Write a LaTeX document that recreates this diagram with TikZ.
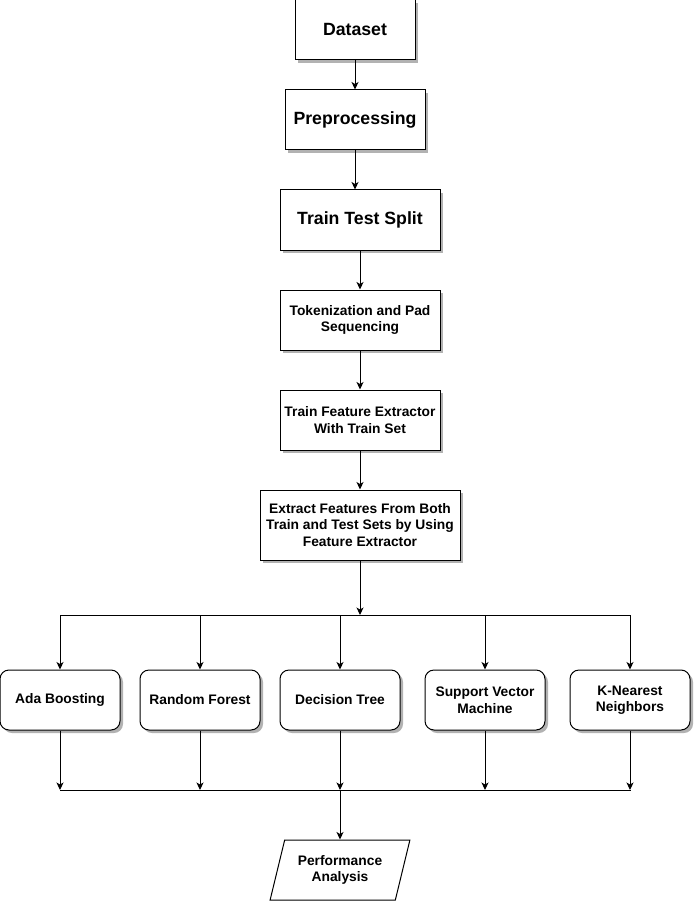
\documentclass[tikz,border=0pt]{standalone}
\usepackage{fontspec}
\setmainfont{Liberation Sans}
\usepackage{tikz}
\usetikzlibrary{arrows.meta,shapes.geometric,shadows}

\tikzset{
  box/.style={draw, fill=white, line width=1pt, align=center,
    drop shadow={shadow xshift=3pt, shadow yshift=-3pt, opacity=0.3, fill=black},
    font=\bfseries\fontsize{13.8}{16.5}\selectfont},
  bigbox/.style={box, minimum height=60pt, font=\bfseries\fontsize{17.7}{20}\selectfont},
  algo/.style={box, rounded corners=9pt, minimum width=120pt, minimum height=60pt},
  io/.style={draw, fill=white, line width=1pt, align=center, trapezium,
    trapezium left angle=71.6, trapezium right angle=108.4, trapezium stretches=true,
    minimum width=140pt, minimum height=60pt,
    font=\bfseries\fontsize{13.8}{16.5}\selectfont},
  line/.style={line width=1pt},
  arr/.style={line, -{Stealth[length=7.5pt, width=7pt, inset=2pt]}}
}

\begin{document}
\begin{tikzpicture}[x=1pt,y=-1pt]
\useasboundingbox (0,0) rectangle (693,901);
\node[bigbox, minimum width=120pt] (dataset) at (355,30) {Dataset};
\node[bigbox, minimum width=140pt] (prep) at (355,120) {Preprocessing};
\node[bigbox, minimum width=160pt] (split) at (360,220) {Train Test Split};
\node[box, minimum width=160pt, minimum height=60pt] (token) at (360,320) {Tokenization and Pad\\Sequencing};
\node[box, minimum width=160pt, minimum height=60pt] (trainfe) at (360,420) {Train Feature Extractor\\With Train Set};
\node[box, minimum width=200pt, minimum height=70pt] (extract) at (360,525) {Extract Features From Both\\Train and Test Sets by Using\\Feature Extractor};

% classifiers
\node[algo] (ada) at (60,700) {Ada Boosting};
\node[algo] (rf) at (200,700) {Random Forest};
\node[algo] (dt) at (340,700) {Decision Tree};
\node[algo] (svm) at (485,700) {Support Vector\\Machine};
\node[algo] (knn) at (630,700) {K-Nearest\\Neighbors};

\node[io] (perf) at (340,870) {Performance\\Analysis};

\coordinate (fork) at (360,615);
\coordinate (join) at (340,790);

\draw[arr] (dataset) -- (prep);
\draw[arr] (prep.south) -- (prep.south |- split.north);
\draw[arr] (split) -- (token);
\draw[arr] (token) -- (trainfe);
\draw[arr] (trainfe) -- (extract);
\draw[arr] (extract) -- (fork);
\draw[line, line cap=rect] (ada |- fork) -- (knn |- fork);
\foreach \n in {ada,rf,dt,svm,knn} {
  \draw[arr] (\n |- fork) -- (\n);
  \draw[arr] (\n) -- (\n |- join);
}
\draw[line, line cap=rect] (ada |- join) -- (knn |- join);
\draw[arr] (join) -- (perf);
\end{tikzpicture}
\end{document}
